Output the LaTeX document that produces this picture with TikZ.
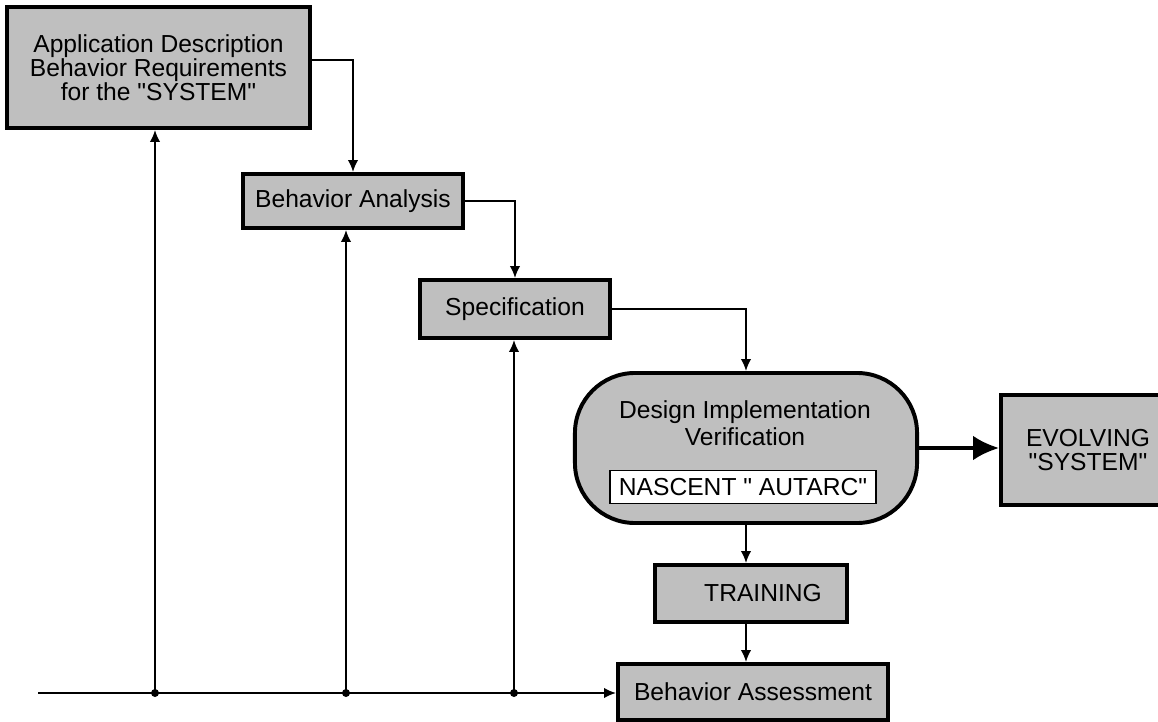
\documentclass[tikz,border=0pt]{standalone}
\usepackage{fontspec}
\setmainfont{Liberation Sans}[Ligatures=TeXOff]
\usetikzlibrary{positioning, arrows.meta}

\begin{document}
\begin{tikzpicture}[x=0.025cm, y=-0.025cm,
		stage/.style={draw=black, line width=2.8pt, fill=black!25, align=center, inner sep=0pt, font=\fontsize{17.5}{17}\selectfont},
		pill/.style={stage, rounded corners=1.5cm},
		tag/.style={draw=black, line width=1.2pt, fill=white, inner sep=0pt, font=\fontsize{17.5}{17}\selectfont},
		link/.style={line width=1.1pt, -{Latex[length=0.3cm, width=0.26cm]}},
		bigarrow/.style={line width=2.6pt, -{Latex[length=0.65cm, width=0.62cm]}}]
		\useasboundingbox (0, 0) rectangle (1158, 722);
		\node[stage, minimum width=7.575cm, minimum height=3.025cm] (app) at (158.5, 67.5) {Application Description\\Behavior Requirements\\for the "SYSTEM"};
		\node[stage, minimum width=5.5cm, minimum height=1.35cm] (ana) at (353, 201) {Behavior Analysis};
		\node[stage, minimum width=4.75cm, minimum height=1.45cm] (spec) at (515, 309) {Specification};
		\node[pill, minimum width=8.55cm, minimum height=3.75cm] (impl) at (746, 448) {};
		\node[align=center, font=\fontsize{17.5}{19}\selectfont] (impltext) at (745, 423) {Design Implementation\\Verification};
		\node[tag, minimum width=6.65cm, minimum height=0.82cm] (nascent) at (743, 487) {NASCENT " AUTARC"};
		\node[stage, minimum width=4.35cm, minimum height=2.75cm] (evolve) at (1088, 450) {EVOLVING\\"SYSTEM"};
		\node[stage, minimum width=4.8cm, minimum height=1.425cm] (train) at (751, 593.5) {\hspace{0.6cm}TRAINING};
		\node[stage, minimum width=6.75cm, minimum height=1.4cm] (assess) at (753, 692) {Behavior Assessment};
		\coordinate (start) at (38, 693);
		\coordinate (d1) at (155, 693);
		\coordinate (d2) at (346, 693);
		\coordinate (d3) at (514, 693);
		\draw[link] ([yshift=0.19cm]app.east) -| (ana.north);
		\draw[link] (ana.east) -| (spec.north);
		\draw[link] (spec.east) -| (impl.north);
		\draw[link] (impl.south) -- (impl.south |- train.north);
		\draw[link] (impl.south |- train.south) -- (impl.south |- assess.north);
		\draw[bigarrow] (impl.east) -- (impl.east -| evolve.west);
		\draw[link] (start) -- (start -| assess.west);
		\draw[link] (d1) -- (d1 |- app.south);
		\draw[link] (d2) -- (d2 |- ana.south);
		\draw[link] (d3) -- (d3 |- spec.south);
		\fill (d1) circle (0.1cm) (d2) circle (0.1cm) (d3) circle (0.1cm);
		\end{tikzpicture}
\end{document}
